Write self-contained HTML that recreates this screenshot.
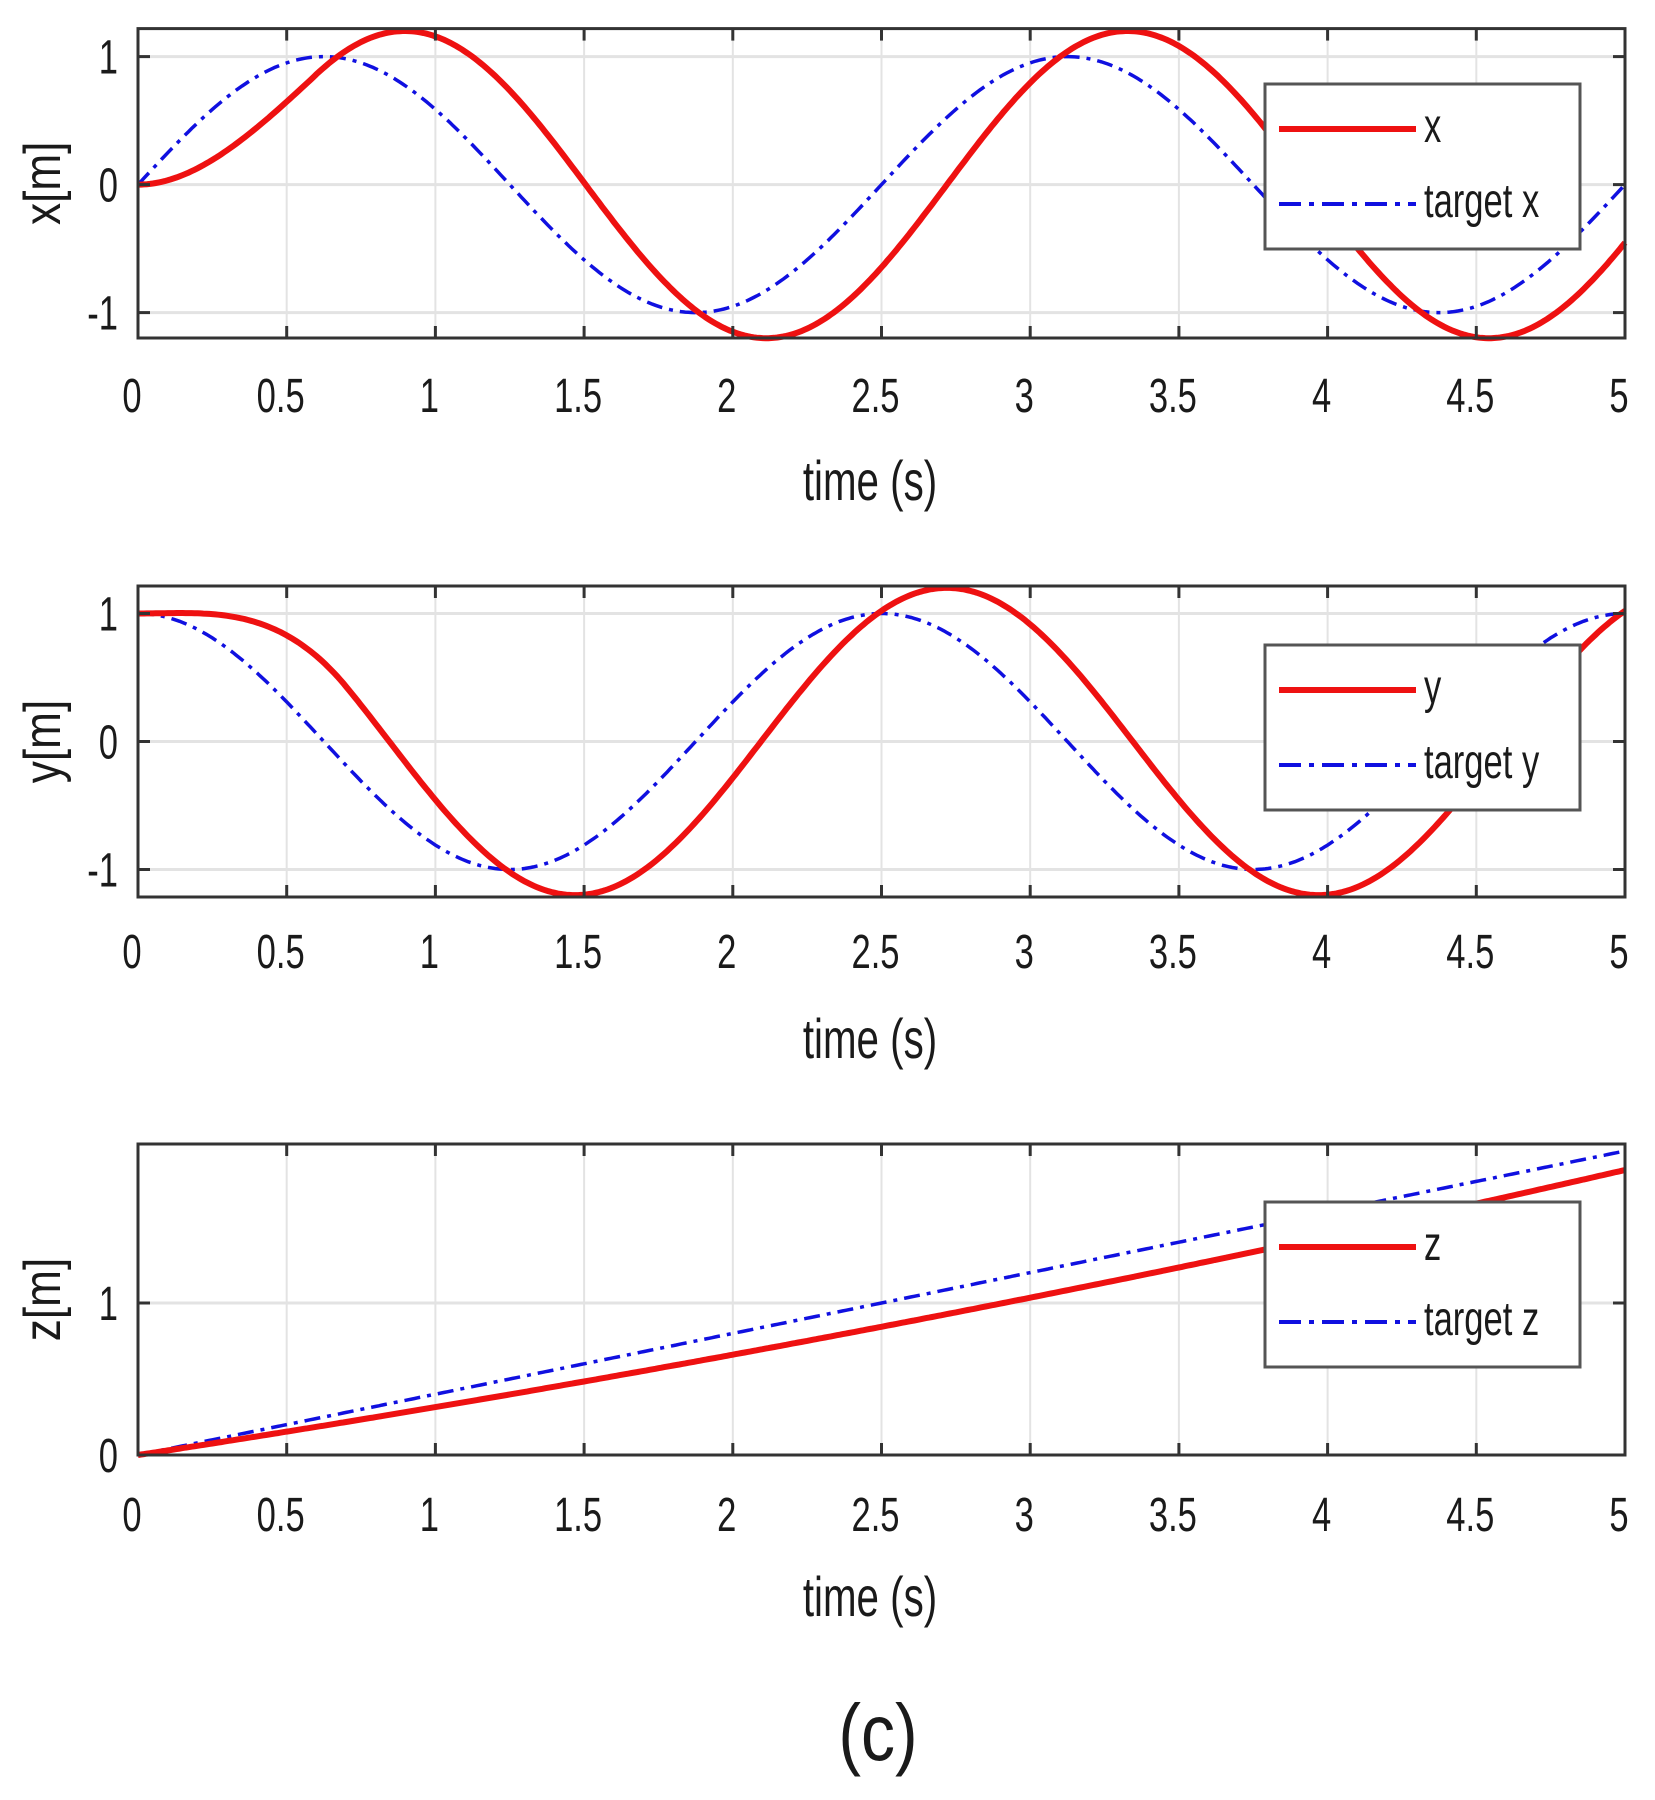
<!DOCTYPE html>
<html><head><meta charset="utf-8"><style>
html,body{margin:0;padding:0;background:#fff;}
svg{display:block;}
text{font-family:"Liberation Sans",sans-serif;fill:#1a1a1a;}
</style></head><body>
<svg id="s" width="1655" height="1800" xmlns="http://www.w3.org/2000/svg"></svg>
<script>
const s=document.getElementById('s');
let h='';
const X0=138,X1=1625,sx=(X1-X0)/5;
const px=t=>X0+t*sx;
function txt(x,y,str,size,anchor,extra){
  return `<text x="${x}" y="${y}" font-size="${size}" text-anchor="${anchor||'middle'}" transform="translate(${x},${y}) scale(0.72,1) translate(${-x},${-y})" ${extra||''}>${str}</text>`;
}
function panel(top,bot,ymap,yticks,ylab,fa,fb,leg,legTop,tickY,labY){
  for(let i=0;i<=10;i++){const x=px(i*0.5);h+=`<line x1="${x}" y1="${top}" x2="${x}" y2="${bot}" stroke="#e3e3e3" stroke-width="2"/>`;}
  yticks.forEach(v=>{const y=ymap(v);h+=`<line x1="${X0}" y1="${y}" x2="${X1}" y2="${y}" stroke="#e3e3e3" stroke-width="3"/>`;});
  let pa='',pb='';
  for(let i=0;i<=500;i++){const t=i/100;pa+=(i?'L':'M')+px(t).toFixed(1)+','+ymap(fa(t)).toFixed(1);pb+=(i?'L':'M')+px(t).toFixed(1)+','+ymap(fb(t)).toFixed(1);}
  h+=`<defs><clipPath id="c${top}"><rect x="${X0-3}" y="${top-6}" width="${X1-X0+6}" height="${bot-top+10}"/></clipPath></defs>`;
  h+=`<g clip-path="url(#c${top})"><path d="${pb}" fill="none" stroke="#1010e0" stroke-width="3.5" stroke-dasharray="16,7,4,7"/>`;
  h+=`<path d="${pa}" fill="none" stroke="#ee1111" stroke-width="6"/></g>`;
  h+=`<rect x="${X0}" y="${top}" width="${X1-X0}" height="${bot-top}" fill="none" stroke="#333" stroke-width="3"/>`;
  for(let i=1;i<10;i++){const x=px(i*0.5);h+=`<line x1="${x}" y1="${top}" x2="${x}" y2="${top+12}" stroke="#333" stroke-width="3"/><line x1="${x}" y1="${bot}" x2="${x}" y2="${bot-12}" stroke="#333" stroke-width="3"/>`;}
  yticks.forEach(v=>{const y=ymap(v);h+=`<line x1="${X0}" y1="${y}" x2="${X0+12}" y2="${y}" stroke="#333" stroke-width="3"/><line x1="${X1}" y1="${y}" x2="${X1-12}" y2="${y}" stroke="#333" stroke-width="3"/>`;
    h+=txt(118,y+17,v<0?'-'+(-v):v,48,'end');});
  ['0','0.5','1','1.5','2','2.5','3','3.5','4','4.5','5'].forEach((l,i)=>{h+=txt(px(i*0.5)-6,tickY,l,48);});
  h+=txt(870,labY,'time (s)',56);
  const cy=(top+bot)/2;
  h+=`<text x="0" y="0" font-size="52" text-anchor="middle" transform="translate(60,${cy}) rotate(-90) scale(0.85,1)">${ylab}</text>`;
  const lt=legTop;
  h+=`<rect x="1265" y="${lt}" width="315" height="165" fill="#fff" stroke="#555" stroke-width="3"/>`;
  h+=`<line x1="1279" y1="${lt+45}" x2="1416" y2="${lt+45}" stroke="#ee1111" stroke-width="6"/>`;
  h+=`<line x1="1279" y1="${lt+120}" x2="1416" y2="${lt+120}" stroke="#1010e0" stroke-width="4" stroke-dasharray="22,8,5,8"/>`;
  h+=txt(1424,lt+58,leg,48,'start');
  h+=txt(1424,lt+133,'target '+leg,48,'start');
}
const m1=v=>184.6-v*128;
panel(28.6,338,m1,[-1,0,1],'x[m]',
  t=>t<0.6?(3.58*t*t-1.98*t*t*t):1.2*Math.sin(2*Math.PI*(t-0.29)/2.43),
  t=>Math.sin(2*Math.PI*t/2.5),'x',84,412,500);
const m2=v=>741.5-v*128;
panel(586,897,m2,[-1,0,1],'y[m]',
  t=>t<0.7?(1+0.523*t*t-2.414*t*t*t):1.2*Math.cos(2*Math.PI*(t-0.22)/2.5),
  t=>Math.cos(2*Math.PI*t/2.5),'y',645,968,1058);
const m3=v=>1455-v*152;
panel(1144,1455,m3,[0,1],'z[m]',
  t=>0.3*t+0.015*t*t,
  t=>0.4*t,'z',1202,1531,1616);
h+=`<text x="878" y="1760" font-size="80" text-anchor="middle" transform="translate(878,1760) scale(0.85,1) translate(-878,-1760)">(c)</text>`;
s.innerHTML=h;
</script>
</body></html>
